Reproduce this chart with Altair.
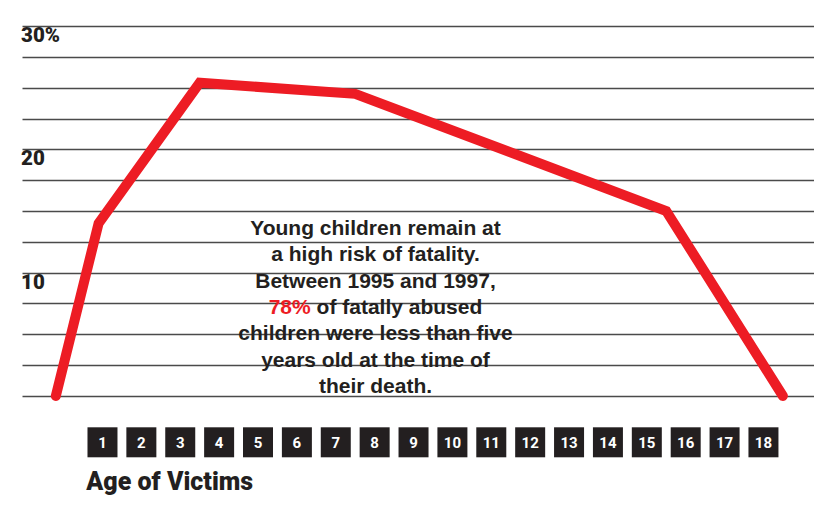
import altair as alt
import pandas as pd

# ---- data ----
line_ages = [-0.2, 0.9, 3.5, 7.5, 15.5, 18.5]
line_pct = [0.0, 14.0, 25.4, 24.5, 15.0, 0.0]
box_ages = list(range(1, 19))
grid_values = [0, 2.5, 5, 7.5, 10, 12.5, 15, 17.5, 20, 22.5, 25, 27.5, 30]
tick_values = [10, 20, 30]
tick_labels = ["10", "20", "30%"]
note_lines = [
    "Young children remain at",
    "a high risk of fatality.",
    "Between 1995 and 1997,",
    None,
    "children were less than five",
    "years old at the time of",
    "their death.",
]
note_red = "78%"
note_rest = "of fatally abused"
x_title = "Age of Victims"

RED = "#ED1C24"
INK = "#231F20"
FONT_N = "Roboto, Liberation Sans, sans-serif"
FONT_B = "Liberation Sans, Arial, Helvetica, sans-serif"

xs = alt.Scale(domain=[-1.07, 19.3], nice=False, zero=False)
ys = alt.Scale(domain=[-8.19, 31.46], nice=False, zero=False)

grid_axis = alt.Axis(values=grid_values, grid=True, labels=False, ticks=False,
                     domain=False, title=None, gridColor="#4a4a4a", gridWidth=1.5)

line_df = pd.DataFrame({"age": line_ages, "pct": line_pct})
box_df = pd.DataFrame({"age": box_ages, "label": [str(a) for a in box_ages]})
tick_df = pd.DataFrame({"v": tick_values, "label": tick_labels})

line = alt.Chart(line_df).mark_line(
    color=RED, strokeWidth=10, strokeCap="round", strokeJoin="miter"
).encode(
    x=alt.X("age:Q", scale=xs, axis=None),
    y=alt.Y("pct:Q", scale=ys, axis=grid_axis),
)

ylabels = alt.Chart(tick_df).mark_text(
    align="left", baseline="alphabetic", dy=16, fontSize=20.5, fontWeight=900,
    font=FONT_N, color=INK
).encode(
    x=alt.value(-1),
    y=alt.Y("v:Q", scale=ys),
    text="label:N",
)

boxes = alt.Chart(box_df).mark_square(size=900, color=INK, opacity=1, filled=True, strokeWidth=0).encode(
    x=alt.X("age:Q", scale=xs, axis=None),
    y=alt.value(434.3),
)

box_text = alt.Chart(box_df).mark_text(
    color="white", fontSize=15, fontWeight="bold", font=FONT_N, baseline="middle", dy=1
).encode(
    x=alt.X("age:Q", scale=xs, axis=None),
    y=alt.value(434.3),
    text="label:N",
)

layers = [line, ylabels, boxes, box_text]

NOTE_X = 353.5
NOTE_Y0 = 227.0
NOTE_DY = 26.33
for i, t in enumerate(note_lines):
    yv = NOTE_Y0 + i * NOTE_DY
    if t is None:
        layers.append(
            alt.Chart(pd.DataFrame({"t": [note_red]})).mark_text(
                align="right", baseline="alphabetic", fontSize=21, fontWeight="bold",
                font=FONT_B, color=RED, dx=-64.8
            ).encode(x=alt.value(NOTE_X), y=alt.value(yv), text="t:N")
        )
        layers.append(
            alt.Chart(pd.DataFrame({"t": [note_rest]})).mark_text(
                align="left", baseline="alphabetic", fontSize=21, fontWeight="bold",
                font=FONT_B, color=INK, dx=-58.9
            ).encode(x=alt.value(NOTE_X), y=alt.value(yv), text="t:N")
        )
    else:
        layers.append(
            alt.Chart(pd.DataFrame({"t": [t]})).mark_text(
                align="center", baseline="alphabetic", fontSize=21, fontWeight="bold",
                font=FONT_B, color=INK
            ).encode(x=alt.value(NOTE_X), y=alt.value(yv), text="t:N")
        )

layers.append(
    alt.Chart(pd.DataFrame({"t": [x_title]})).mark_text(
        align="left", baseline="alphabetic", fontSize=25, fontWeight=900,
        font=FONT_N, color=INK
    ).encode(x=alt.value(64.3), y=alt.value(482), text="t:N")
)

chart = alt.layer(*layers).properties(
    width=792, height=489,
    autosize=alt.AutoSizeParams(type="none"),
    padding={"left": 14, "top": 0, "right": 0, "bottom": 0},
    background="white",
).configure_view(strokeWidth=0)

chart.save("out.html", embed_options={"renderer": "svg", "actions": False})
